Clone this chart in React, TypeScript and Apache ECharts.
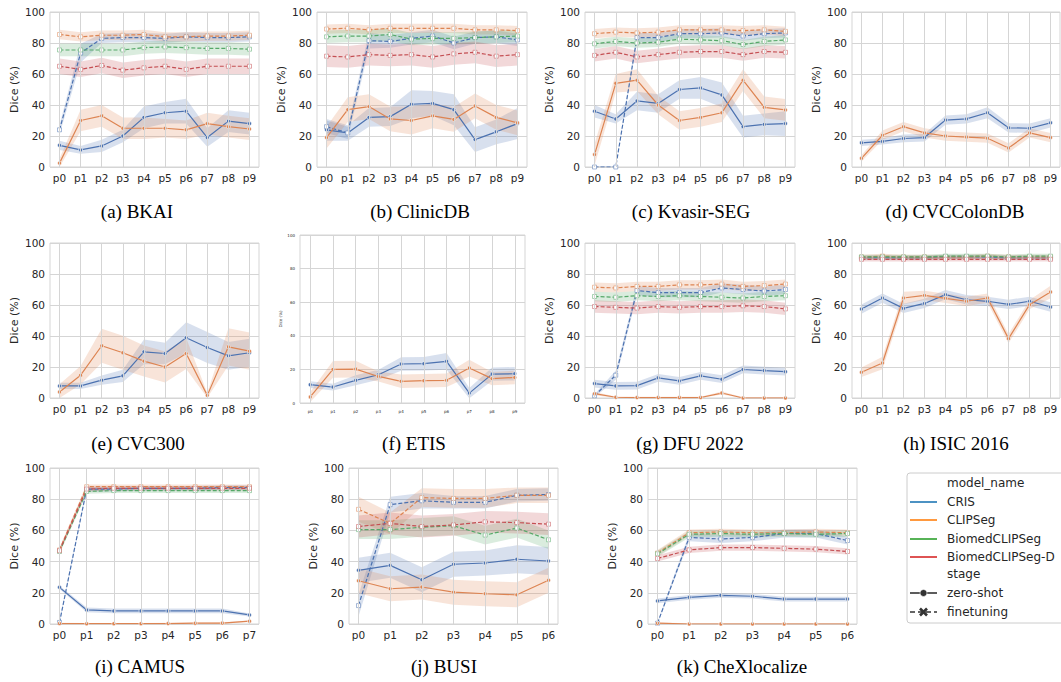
import React, { useEffect, useRef } from 'react';
import * as echarts from 'echarts';

const CATS10 = ['p0', 'p1', 'p2', 'p3', 'p4', 'p5', 'p6', 'p7', 'p8', 'p9'];
const CATS8 = ['p0', 'p1', 'p2', 'p3', 'p4', 'p5', 'p6', 'p7'];
const CATS7 = ['p0', 'p1', 'p2', 'p3', 'p4', 'p5', 'p6'];
const MODELS = ['CRIS', 'CLIPSeg', 'BiomedCLIPSeg', 'BiomedCLIPSeg-D'];
const STAGES = ['zero-shot', 'finetuning'];
const Y_LABEL = 'Dice (%)';

// (a) BKAI
const bkaiCrisZs = [14, 11, 13.6, 20, 32, 35, 36, 19, 29.6, 28];
const bkaiCrisZsErr = [3, 2.5, 4, 4, 7, 7, 8, 6, 7, 7];
const bkaiClipZs = [2.5, 30, 33, 25, 25, 25, 24, 28, 26, 24.5];
const bkaiClipZsErr = [3, 7, 7, 7, 7, 6, 6, 7, 7, 7];
const bkaiCrisFt = [24, 73.5, 83, 83.5, 83.5, 83, 84, 83.5, 83.5, 84];
const bkaiCrisFtErr = [3, 6, 3, 3, 3, 3, 3, 3, 3, 3];
const bkaiClipFt = [85.5, 84, 85, 85, 85.5, 84, 84, 84.5, 84.5, 85];
const bkaiClipFtErr = [3, 3, 3, 3, 3, 3, 3, 3, 3, 3];
const bkaiBioFt = [75.5, 75.5, 75.5, 75.5, 77, 77.5, 77, 76.5, 76.5, 76];
const bkaiBioFtErr = [4, 4, 4, 4, 4, 4, 4, 4, 4, 4];
const bkaiBioDFt = [65, 63, 65.5, 62.5, 64, 65, 63, 65, 65, 65];
const bkaiBioDFtErr = [5, 5, 5, 5, 5, 5, 5, 5, 5, 5];

// (b) ClinicDB
const clinCrisZs = [24, 22, 32, 32.5, 40.5, 41, 37, 17.7, 22.7, 28];
const clinCrisZsErr = [7, 5, 6, 6, 9, 8, 10, 8, 8, 10];
const clinClipZs = [19, 37, 39, 31, 30, 33, 30.7, 39.4, 32, 28.5];
const clinClipZsErr = [7, 8, 8, 8, 9, 8, 8, 8, 8, 8];
const clinCrisFt = [26, 22, 81.5, 81, 83, 84.5, 80, 83.5, 84, 82];
const clinCrisFtErr = [4, 4, 5, 4, 4, 4, 4, 4, 4, 4];
const clinClipFt = [89, 89.5, 88.5, 89.5, 89.5, 89.5, 89.5, 88.5, 88.5, 88];
const clinClipFtErr = [3, 3, 3, 3, 3, 3, 3, 3, 3, 3];
const clinBioFt = [84, 84.5, 84.5, 85.5, 82.5, 83, 83, 83.5, 84, 84.5];
const clinBioFtErr = [4, 4, 4, 4, 4, 4, 4, 4, 4, 4];
const clinBioDFt = [71.5, 71, 72.5, 72, 72.5, 71, 73, 74, 71.5, 72.5];
const clinBioDFtErr = [7, 7, 7, 7, 7, 7, 7, 7, 7, 7];

// (c) Kvasir-SEG
const kvaCrisZs = [36, 31, 42.6, 41, 50, 51, 46.5, 26, 27.5, 28];
const kvaCrisZsErr = [4, 3, 6, 6, 6, 7, 8, 7, 7, 8];
const kvaClipZs = [8, 54, 56, 40, 30, 32, 35, 56, 38.5, 36.8];
const kvaClipZsErr = [7, 6, 7, 6, 6, 6, 6, 7, 7, 7];
const kvaCrisFt = [0, 0, 83.5, 83.5, 86, 86, 86.5, 84.5, 86, 86.5];
const kvaCrisFtErr = [0.5, 0.5, 3, 3, 3, 3, 3, 3, 3, 3];
const kvaClipFt = [86, 87, 86.5, 87, 88.5, 88.5, 88.5, 88, 88.5, 87.5];
const kvaClipFtErr = [3, 3, 3, 3, 3, 3, 3, 3, 3, 3];
const kvaBioFt = [79.5, 81, 80, 80.5, 82.5, 82, 81.5, 79, 81, 82];
const kvaBioFtErr = [3, 3, 3, 3, 3, 3, 3, 3, 3, 3];
const kvaBioDFt = [72, 74, 71, 72.5, 74, 74.5, 74.5, 72.5, 74.5, 74];
const kvaBioDFtErr = [4, 4, 4, 4, 4, 4, 4, 4, 4, 4];

// (d) CVCColonDB
const colCrisZs = [15.6, 16.5, 18.4, 19, 30.3, 31, 35, 25.3, 25, 28.5];
const colCrisZsErr = [2, 2, 2.5, 2.5, 3, 3, 3.5, 3, 3, 3];
const colClipZs = [5.6, 20.5, 26, 22, 20, 19.3, 18.6, 12.3, 22, 19];
const colClipZsErr = [2, 3, 3, 3, 3, 3, 3, 3, 3, 3];

// (e) CVC300
const c300CrisZs = [7.8, 7.8, 11.5, 14.3, 29.8, 28.7, 38.9, 32.6, 27.2, 29.2];
const c300CrisZsErr = [2, 2, 3, 4, 8, 7, 10, 10, 9, 9];
const c300ClipZs = [3.9, 14.7, 33.7, 29.2, 23.8, 20, 28.7, 1.7, 33, 30.2];
const c300ClipZsErr = [5, 6, 11, 11, 10, 10, 10, 1.5, 12, 12];

// (f) ETIS
const etisCrisZs = [10.9, 9.5, 13.5, 16.8, 23.2, 23.4, 24.8, 5.9, 17.2, 17.4];
const etisCrisZsErr = [2, 2, 3, 3, 4, 4, 5, 3, 4, 4];
const etisClipZs = [3.6, 20, 20.2, 15.8, 12.9, 13.3, 13.5, 20.8, 14.5, 15.2];
const etisClipZsErr = [3, 5, 5, 3, 4, 4, 4, 5, 4, 4];

// (g) DFU 2022
const dfuCrisZs = [9.3, 7.8, 8, 13, 11, 14.3, 12.1, 18.4, 17.7, 17];
const dfuCrisZsErr = [2.5, 2.5, 2.5, 2.5, 2.5, 2.5, 2.5, 2.5, 2.5, 2.5];
const dfuClipZs = [2.8, 0.5, 0.3, 0.3, 0.3, 0.3, 3.2, 0, 0, 0];
const dfuClipZsErr = [1, 0.5, 0.5, 0.5, 0.5, 0.5, 1, 0.5, 0.5, 0.5];
const dfuCrisFt = [1.5, 14.7, 69.3, 68, 68, 68, 71, 70, 69, 70];
const dfuCrisFtErr = [1, 3, 3, 3, 3, 3, 3, 3, 3, 3];
const dfuClipFt = [71.5, 71, 72, 72, 73, 73, 73.5, 72, 72.5, 73.5];
const dfuClipFtErr = [3, 3, 3, 3, 3, 3, 3, 3, 3, 3];
const dfuBioFt = [65.5, 65, 66, 65.5, 66, 65.5, 65, 64.5, 65.5, 66];
const dfuBioFtErr = [3, 3, 3, 3, 3, 3, 3, 3, 3, 3];
const dfuBioDFt = [59, 58.5, 58, 59, 58.5, 59, 59, 59.5, 59, 57.5];
const dfuBioDFtErr = [4, 4, 4, 4, 4, 4, 4, 4, 4, 4];

// (h) ISIC 2016
const isicCrisZs = [57.4, 64.5, 57.8, 61, 66.7, 63.4, 62.4, 60.4, 62.4, 58.7];
const isicCrisZsErr = [3, 3, 3, 3, 3, 3, 3, 3, 3, 3];
const isicClipZs = [16.6, 22.6, 64.5, 66.2, 64.3, 62.4, 64.5, 38.3, 60.2, 68.4];
const isicClipZsErr = [3, 4, 4, 3, 3, 3, 3, 3, 3, 4];
const isicCrisFt = [90.5, 90.5, 90.5, 90.5, 91, 91, 91, 90.5, 90.5, 90.5];
const isicCrisFtErr = [1.5, 1.5, 1.5, 1.5, 1.5, 1.5, 1.5, 1.5, 1.5, 1.5];
const isicClipFt = [91, 91.5, 91, 91, 91, 91, 91.5, 91, 91, 91];
const isicClipFtErr = [1.5, 1.5, 1.5, 1.5, 1.5, 1.5, 1.5, 1.5, 1.5, 1.5];
const isicBioFt = [91, 91, 91, 91, 91.5, 91.5, 91.5, 91, 91.5, 91.5];
const isicBioFtErr = [1.5, 1.5, 1.5, 1.5, 1.5, 1.5, 1.5, 1.5, 1.5, 1.5];
const isicBioDFt = [89.5, 89.5, 89.5, 89.5, 89.5, 89.5, 89.5, 89.5, 89.5, 89.5];
const isicBioDFtErr = [1.5, 1.5, 1.5, 1.5, 1.5, 1.5, 1.5, 1.5, 1.5, 1.5];

// (i) CAMUS
const camCrisZs = [23.5, 9, 8.4, 8.4, 8.4, 8.4, 8.4, 5.8];
const camCrisZsErr = [1, 1.5, 1.5, 1.5, 1.5, 1.5, 1.5, 1];
const camClipZs = [0.3, 0.2, 0.2, 0.2, 0.3, 0.5, 0.6, 1.8];
const camClipZsErr = [0.5, 0.5, 0.5, 0.5, 0.5, 0.5, 0.5, 0.5];
const camCrisFt = [1, 86.5, 86.5, 87, 87, 87, 87.5, 87.5];
const camCrisFtErr = [1.5, 1.5, 1.5, 1.5, 1.5, 1.5, 1.5, 1.5];
const camClipFt = [47.5, 88, 88, 88, 88, 88, 88, 88];
const camClipFtErr = [1.5, 1.5, 1.5, 1.5, 1.5, 1.5, 1.5, 1.5];
const camBioFt = [46.5, 85, 85.5, 85.5, 85.5, 85.5, 85.5, 85.5];
const camBioFtErr = [1.5, 1.5, 1.5, 1.5, 1.5, 1.5, 1.5, 1.5];
const camBioDFt = [47, 86.5, 87, 87, 87, 87, 87, 87];
const camBioDFtErr = [1.5, 1.5, 1.5, 1.5, 1.5, 1.5, 1.5, 1.5];

// (j) BUSI
const busiCrisZs = [34.4, 37.6, 28.4, 38.3, 39.1, 41.5, 40.4];
const busiCrisZsErr = [8, 8, 8, 8, 8, 9, 9];
const busiClipZs = [27.7, 22.6, 23.7, 20.4, 19.4, 18.7, 28];
const busiClipZsErr = [8, 8, 8, 8, 8, 8, 8];
const busiCrisFt = [11.8, 76.5, 79, 78, 78, 82.5, 83];
const busiCrisFtErr = [7, 5, 5, 4, 4, 4, 4];
const busiClipFt = [73.5, 64.5, 81, 80.5, 80.5, 82.5, 82.5];
const busiClipFtErr = [8, 7, 6, 6, 6, 5, 5];
const busiBioFt = [60.5, 60.5, 62, 63, 57, 61.5, 54];
const busiBioFtErr = [6, 6, 6, 6, 6, 6, 6];
const busiBioDFt = [62.5, 64.5, 62.5, 63.5, 65.5, 65, 64];
const busiBioDFtErr = [7, 7, 7, 7, 7, 7, 7];

// (k) CheXlocalize
const chexCrisZs = [14.8, 17.1, 18.4, 17.8, 16, 16, 16];
const chexCrisZsErr = [1.5, 1.5, 1.5, 1.5, 1.5, 1.5, 1.5];
const chexClipZs = [0.5, 0, 0, 0, 0, 0, 0];
const chexClipZsErr = [0.5, 0.5, 0.5, 0.5, 0.5, 0.5, 0.5];
const chexCrisFt = [0.5, 55.5, 54.5, 55.5, 58, 58, 53.5];
const chexCrisFtErr = [1, 2.5, 2.5, 2.5, 2.5, 2.5, 2.5];
const chexClipFt = [45.5, 58.5, 59, 58.5, 58.5, 59, 58.5];
const chexClipFtErr = [2, 2, 2, 2, 2, 2, 2];
const chexBioFt = [45, 57.5, 58, 57.5, 58, 57.5, 58];
const chexBioFtErr = [2, 2, 2, 2, 2, 2, 2];
const chexBioDFt = [42, 47.5, 49, 49, 48.5, 48, 46.5];
const chexBioDFtErr = [2, 2, 2, 2, 2, 2, 2];

type LineDef = { model: number; stage: number; mean: number[]; err: number[] };
type PanelDef = { caption: string; cats: string[]; lines: LineDef[] };

const L = (model: number, stage: number, mean: number[], err: number[]): LineDef => ({ model, stage, mean, err });

const PANELS: PanelDef[] = [
  { caption: '(a) BKAI', cats: CATS10, lines: [L(0, 0, bkaiCrisZs, bkaiCrisZsErr), L(0, 1, bkaiCrisFt, bkaiCrisFtErr), L(1, 0, bkaiClipZs, bkaiClipZsErr), L(1, 1, bkaiClipFt, bkaiClipFtErr), L(2, 1, bkaiBioFt, bkaiBioFtErr), L(3, 1, bkaiBioDFt, bkaiBioDFtErr)] },
  { caption: '(b) ClinicDB', cats: CATS10, lines: [L(0, 0, clinCrisZs, clinCrisZsErr), L(0, 1, clinCrisFt, clinCrisFtErr), L(1, 0, clinClipZs, clinClipZsErr), L(1, 1, clinClipFt, clinClipFtErr), L(2, 1, clinBioFt, clinBioFtErr), L(3, 1, clinBioDFt, clinBioDFtErr)] },
  { caption: '(c) Kvasir-SEG', cats: CATS10, lines: [L(0, 0, kvaCrisZs, kvaCrisZsErr), L(0, 1, kvaCrisFt, kvaCrisFtErr), L(1, 0, kvaClipZs, kvaClipZsErr), L(1, 1, kvaClipFt, kvaClipFtErr), L(2, 1, kvaBioFt, kvaBioFtErr), L(3, 1, kvaBioDFt, kvaBioDFtErr)] },
  { caption: '(d) CVCColonDB', cats: CATS10, lines: [L(0, 0, colCrisZs, colCrisZsErr), L(1, 0, colClipZs, colClipZsErr)] },
  { caption: '(e) CVC300', cats: CATS10, lines: [L(0, 0, c300CrisZs, c300CrisZsErr), L(1, 0, c300ClipZs, c300ClipZsErr)] },
  { caption: '(f) ETIS', cats: CATS10, lines: [L(0, 0, etisCrisZs, etisCrisZsErr), L(1, 0, etisClipZs, etisClipZsErr)] },
  { caption: '(g) DFU 2022', cats: CATS10, lines: [L(0, 0, dfuCrisZs, dfuCrisZsErr), L(0, 1, dfuCrisFt, dfuCrisFtErr), L(1, 0, dfuClipZs, dfuClipZsErr), L(1, 1, dfuClipFt, dfuClipFtErr), L(2, 1, dfuBioFt, dfuBioFtErr), L(3, 1, dfuBioDFt, dfuBioDFtErr)] },
  { caption: '(h) ISIC 2016', cats: CATS10, lines: [L(0, 0, isicCrisZs, isicCrisZsErr), L(0, 1, isicCrisFt, isicCrisFtErr), L(1, 0, isicClipZs, isicClipZsErr), L(1, 1, isicClipFt, isicClipFtErr), L(2, 1, isicBioFt, isicBioFtErr), L(3, 1, isicBioDFt, isicBioDFtErr)] },
  { caption: '(i) CAMUS', cats: CATS8, lines: [L(0, 0, camCrisZs, camCrisZsErr), L(0, 1, camCrisFt, camCrisFtErr), L(1, 0, camClipZs, camClipZsErr), L(1, 1, camClipFt, camClipFtErr), L(2, 1, camBioFt, camBioFtErr), L(3, 1, camBioDFt, camBioDFtErr)] },
  { caption: '(j) BUSI', cats: CATS7, lines: [L(0, 0, busiCrisZs, busiCrisZsErr), L(0, 1, busiCrisFt, busiCrisFtErr), L(1, 0, busiClipZs, busiClipZsErr), L(1, 1, busiClipFt, busiClipFtErr), L(2, 1, busiBioFt, busiBioFtErr), L(3, 1, busiBioDFt, busiBioDFtErr)] },
  { caption: '(k) CheXlocalize', cats: CATS7, lines: [L(0, 0, chexCrisZs, chexCrisZsErr), L(0, 1, chexCrisFt, chexCrisFtErr), L(1, 0, chexClipZs, chexClipZsErr), L(1, 1, chexClipFt, chexClipFtErr), L(2, 1, chexBioFt, chexBioFtErr), L(3, 1, chexBioDFt, chexBioDFtErr)] },
];

// layout (pixels)
const LAYOUT = [
  { left: 50, top: 12, width: 209, height: 155, cx: 137, cy: 211 },
  { left: 317, top: 12, width: 210, height: 155, cx: 420, cy: 211 },
  { left: 585, top: 12, width: 210, height: 155, cx: 691, cy: 211 },
  { left: 852, top: 12, width: 208, height: 155, cx: 955, cy: 211 },
  { left: 50, top: 243, width: 209, height: 155, cx: 138, cy: 443 },
  { left: 300, top: 235, width: 225, height: 168, cx: 414, cy: 443, small: true },
  { left: 585, top: 243, width: 210, height: 155, cx: 690, cy: 443 },
  { left: 852, top: 243, width: 208, height: 155, cx: 956, cy: 443 },
  { left: 50, top: 468, width: 209, height: 156, cx: 140, cy: 666 },
  { left: 349, top: 468, width: 209, height: 156, cx: 444, cy: 666 },
  { left: 648, top: 468, width: 209, height: 156, cx: 742, cy: 666 },
];

const LINE_COLORS = ['#4c72b0', '#dd8452', '#55a868', '#c44e52'];
const LEGEND_COLORS = ['#1f77b4', '#ff7f0e', '#2ca02c', '#d62728'];
const GRID_COLOR = '#d5d5d5';
const TEXT_COLOR = '#262626';
const FONT = 'DejaVu Sans';

function buildOption() {
  const grid: any[] = [];
  const xAxis: any[] = [];
  const yAxis: any[] = [];
  const series: any[] = [];
  const graphic: any[] = [];

  PANELS.forEach((p, i) => {
    const lay: any = LAYOUT[i];
    const small = !!lay.small;
    const fs = small ? 4 : 10.5;
    const n = p.cats.length;
    const pad = (n - 1) * 0.05;
    const idx = p.cats.map((_, k) => k);
    grid.push({
      left: lay.left, top: lay.top, width: lay.width, height: lay.height,
      show: true, borderColor: GRID_COLOR, borderWidth: 1, backgroundColor: 'transparent',
    });
    xAxis.push({
      type: 'value', gridIndex: i, min: -pad, max: n - 1 + pad,
      axisLine: { show: false }, axisTick: { show: false, customValues: idx },
      splitLine: { show: false },
      axisLabel: {
        customValues: idx, formatter: (v: number) => p.cats[Math.round(v)] ?? '',
        fontSize: fs, color: TEXT_COLOR, fontFamily: FONT, margin: small ? 6 : 5,
      },
    });
    yAxis.push({
      type: 'value', gridIndex: i, min: 0, max: 100, interval: 20,
      name: Y_LABEL, nameLocation: 'middle', nameGap: small ? 18 : 30,
      nameTextStyle: { fontSize: small ? 4 : 11, color: TEXT_COLOR, fontFamily: FONT },
      axisLine: { show: false }, axisTick: { show: false },
      axisLabel: { fontSize: fs, color: TEXT_COLOR, fontFamily: FONT, margin: 5 },
      splitLine: { show: true, lineStyle: { color: GRID_COLOR, width: 1 } },
    });
    // vertical grid lines at each category
    series.push({
      type: 'line', xAxisIndex: i, yAxisIndex: i, data: [], silent: true, z: 0,
      markLine: {
        silent: true, symbol: ['none', 'none'], label: { show: false },
        lineStyle: { color: GRID_COLOR, width: 1, type: 'solid' },
        emphasis: { disabled: true },
        data: idx.map((k) => ({ xAxis: k })),
      },
    });
    // confidence bands (polygon through the axis scales)
    p.lines.forEach((ln) => {
      const color = LINE_COLORS[ln.model];
      const lower = ln.mean.map((m, k) => Math.max(0, Math.min(100, m - ln.err[k])));
      const upper = ln.mean.map((m, k) => Math.max(0, Math.min(100, m + ln.err[k])));
      series.push({
        type: 'custom', xAxisIndex: i, yAxisIndex: i, silent: true, z: 1,
        data: [[0, ln.mean[0]]],
        renderItem: (_params: any, api: any) => {
          const pts: number[][] = [];
          for (let k = 0; k < upper.length; k++) pts.push(api.coord([k, upper[k]]));
          for (let k = lower.length - 1; k >= 0; k--) pts.push(api.coord([k, lower[k]]));
          return { type: 'polygon', shape: { points: pts }, style: { fill: color, opacity: 0.22 } };
        },
      });
    });
    p.lines.forEach((ln) => {
      const color = LINE_COLORS[ln.model];
      const zs = ln.stage === 0;
      series.push({
        type: 'line', xAxisIndex: i, yAxisIndex: i, name: `${MODELS[ln.model]} ${STAGES[ln.stage]}`,
        data: ln.mean.map((v, k) => [k, v]),
        symbol: zs ? 'circle' : 'rect', symbolSize: 4, showAllSymbol: true,
        lineStyle: { color, width: 1.2, type: zs ? 'solid' : [4, 2] },
        itemStyle: zs ? { color, borderColor: '#ffffff', borderWidth: 0.6 } : { color: '#ffffff', borderColor: color, borderWidth: 0.5 },
        z: 2, silent: true,
      });
    });
    graphic.push({
      type: 'text', x: lay.cx, y: lay.cy,
      style: {
        text: p.caption, fill: '#000', fontSize: 19, fontFamily: 'Liberation Serif',
        align: 'center', verticalAlign: 'middle', textAlign: 'center', textVerticalAlign: 'middle',
      },
    });
  });

  // legend
  const lx = 907, ly = 473;
  graphic.push({
    type: 'rect', shape: { x: lx, y: ly, width: 170, height: 150, r: 3 },
    style: { fill: '#ffffff', stroke: '#cccccc', lineWidth: 1 }, z: 10,
  });
  const textX = 947;
  const rowY = [483, 502, 520, 539, 557, 574, 593, 612];
  const labels = ['model_name', ...MODELS, 'stage', ...STAGES];
  labels.forEach((t, k) => {
    graphic.push({
      type: 'text', x: textX, y: rowY[k], z: 11,
      style: { text: t, fill: TEXT_COLOR, fontSize: 12, fontFamily: FONT, align: 'left', verticalAlign: 'middle', textAlign: 'left', textVerticalAlign: 'middle' },
    });
  });
  MODELS.forEach((_, k) => {
    graphic.push({
      type: 'line', z: 11, shape: { x1: 910, y1: rowY[k + 1], x2: 937, y2: rowY[k + 1] },
      style: { stroke: LEGEND_COLORS[k], lineWidth: 1.6 },
    });
  });
  // zero-shot handle
  graphic.push({ type: 'line', z: 11, shape: { x1: 910, y1: rowY[6], x2: 937, y2: rowY[6] }, style: { stroke: '#333333', lineWidth: 1.6 } });
  graphic.push({ type: 'circle', z: 12, shape: { cx: 923.5, cy: rowY[6], r: 3.5 }, style: { fill: '#333333', stroke: '#ffffff', lineWidth: 0.6 } });
  // finetuning handle
  graphic.push({ type: 'line', z: 11, shape: { x1: 910, y1: rowY[7], x2: 937, y2: rowY[7] }, style: { stroke: '#333333', lineWidth: 1.6, lineDash: [5, 3] } });
  graphic.push({ type: 'line', z: 12, shape: { x1: 920, y1: rowY[7] - 3.5, x2: 927, y2: rowY[7] + 3.5 }, style: { stroke: '#333333', lineWidth: 2.6 } });
  graphic.push({ type: 'line', z: 12, shape: { x1: 920, y1: rowY[7] + 3.5, x2: 927, y2: rowY[7] - 3.5 }, style: { stroke: '#333333', lineWidth: 2.6 } });

  return {
    animation: false,
    backgroundColor: '#ffffff',
    grid, xAxis, yAxis, series, graphic,
  };
}

export default function App() {
  const ref = useRef<HTMLDivElement>(null);
  useEffect(() => {
    if (!ref.current) return;
    const chart = echarts.init(ref.current, null, { renderer: 'svg' });
    chart.setOption(buildOption() as any);
    return () => chart.dispose();
  }, []);
  return (
    <div
      ref={ref}
      style={{ position: 'fixed', left: 0, top: 0, width: 1061, height: 682, background: '#fff' }}
    />
  );
}
